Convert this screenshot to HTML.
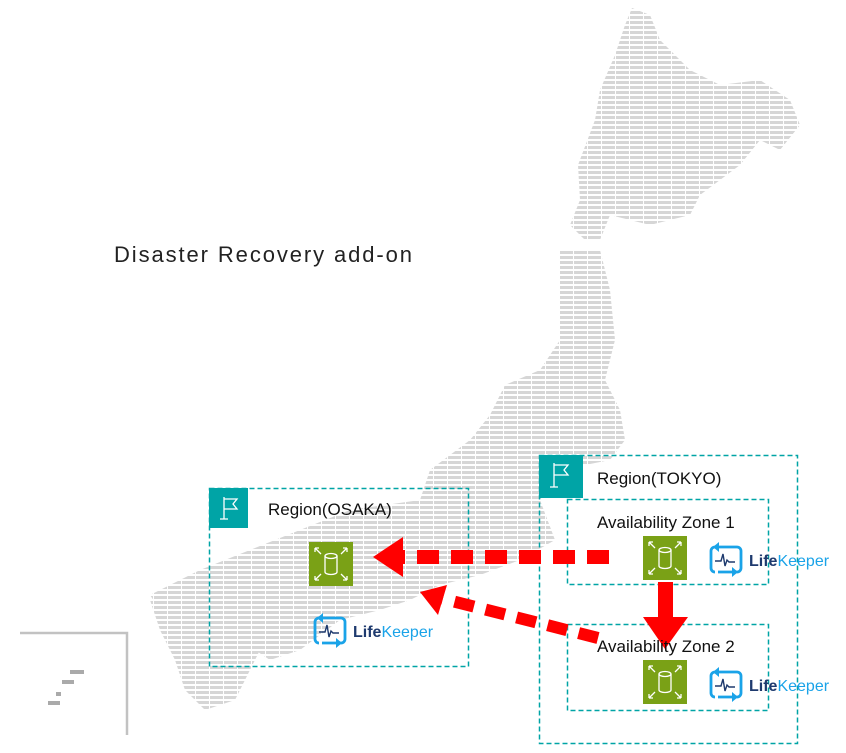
<!DOCTYPE html>
<html><head><meta charset="utf-8"><style>
html,body{margin:0;padding:0;background:#fff;width:846px;height:753px;overflow:hidden}
svg{display:block}
text{font-family:"Liberation Sans",sans-serif}
</style></head><body>
<svg width="846" height="753" viewBox="0 0 846 753" xmlns="http://www.w3.org/2000/svg">
<defs>
<pattern id="st" width="14" height="5" patternUnits="userSpaceOnUse">
<rect x="0" y="1" width="13" height="3" fill="#d6d6d6"/>
</pattern>
<g id="rds">
<rect width="44" height="44" fill="#7aa116"/>
<g stroke="#fff" stroke-width="1.3" fill="none">
<path d="M16 14 v16 a6 2.5 0 0 0 12 0 v-16"/>
<ellipse cx="22" cy="14" rx="6" ry="2.5"/>
<path d="M6 6 l6 6 M6 6 h4 M6 6 v4 M38 6 l-6 6 M38 6 h-4 M38 6 v4 M6 38 l6 -6 M6 38 h4 M6 38 v-4 M38 38 l-6 -6 M38 38 h-4 M38 38 v-4"/>
</g>
</g>
<g id="lk">
<g fill="none" stroke="#1aa3e8" stroke-width="2.8">
<path d="M7 4 h21 a4 4 0 0 1 4 4 v17 a4 4 0 0 1 -4 4 h-19"/>
<path d="M6 4 a4 4 0 0 0 -4 4 v17 a4 4 0 0 0 4 4"/>
</g>
<path d="M10 -1 l-6 5 6 5 z M23 24 l6 5 -6 5 z" fill="#1aa3e8"/>
<path d="M6 18 h6 l2 -7 2 12 2 -6 2 2 h6" fill="none" stroke="#1e3a6e" stroke-width="1.4"/>
<text x="40" y="23" font-size="16"><tspan fill="#1e3a6e" font-weight="bold">Life</tspan><tspan fill="#1aa3e8">Keeper</tspan></text>
</g>
</defs>

<!-- map -->
<g fill="url(#st)">
<polygon points="632,8 650,15 660,40 690,70 720,85 760,80 790,100 800,125 780,150 760,140 740,165 720,180 700,195 690,215 650,225 610,215 600,240 585,240 570,225 580,200 578,165 595,120 600,90 615,55 625,25"/>
<polygon points="560,250 600,250 610,290 615,340 605,380 620,410 625,440 610,460 560,470 540,500 500,505 470,500 440,505 420,500 430,470 470,440 490,415 505,385 540,370 560,340 560,300"/>
<polygon points="420,500 470,495 540,500 555,540 520,560 480,575 440,585 410,600 380,610 340,620 300,650 270,660 240,640 210,620 160,610 150,595 200,570 250,550 300,530 350,510"/>
<polygon points="150,600 210,590 250,600 265,640 250,670 235,700 205,710 185,690 175,660 160,630"/>
</g>
<!-- okinawa frame -->
<path d="M20 633 H127 V735" fill="none" stroke="#999" stroke-width="2.5" opacity="0.6"/>
<g fill="#aaa"><rect x="70" y="670" width="14" height="4"/><rect x="62" y="680" width="12" height="4"/><rect x="56" y="692" width="5" height="4"/><rect x="48" y="701" width="12" height="4"/></g>

<text x="114" y="262" font-size="22" fill="#222" letter-spacing="1.9">Disaster Recovery add-on</text>

<!-- Osaka -->
<rect x="209.5" y="488.5" width="259" height="178" fill="none" stroke="#00a4a6" stroke-width="1.5" stroke-dasharray="5,3"/>
<rect x="209" y="488" width="39" height="40" fill="#00a4a6"/>
<path d="M224 497 v22 M220 519 h8 M224 499 h13 l-4 5 4 5 h-13" fill="none" stroke="#fff" stroke-width="1.3"/>
<text x="268" y="515" font-size="17" fill="#111">Region(OSAKA)</text>
<use href="#rds" x="309" y="542"/>
<use href="#lk" x="313" y="614"/>

<!-- Tokyo -->
<rect x="539.5" y="455.5" width="258" height="288" fill="none" stroke="#00a4a6" stroke-width="1.5" stroke-dasharray="5,3"/>
<rect x="539" y="455" width="44" height="43" fill="#00a4a6"/>
<path d="M554 463 v24 M550 487 h8 M554 465 h14 l-4 5 4 5 h-14" fill="none" stroke="#fff" stroke-width="1.3"/>
<text x="597" y="484" font-size="17" fill="#111">Region(TOKYO)</text>

<rect x="567.5" y="499.5" width="201" height="85" fill="#fff" fill-opacity="0.6" stroke="#00a4a6" stroke-width="1.5" stroke-dasharray="5,3"/>
<text x="597" y="528" font-size="17" fill="#111">Availability Zone 1</text>
<use href="#rds" x="643" y="536"/>
<use href="#lk" x="709" y="543"/>

<rect x="567.5" y="624.5" width="201" height="86" fill="none" stroke="#00a4a6" stroke-width="1.5" stroke-dasharray="5,3"/>
<use href="#rds" x="643" y="660"/>
<use href="#lk" x="709" y="668"/>

<!-- arrows -->
<rect x="658" y="582" width="15" height="36" fill="#ff0000"/>
<polygon points="643,617 688,617 665,649" fill="#ff0000"/>
<text x="597" y="652" font-size="17" fill="#111">Availability Zone 2</text>

<line x1="609" y1="557" x2="403" y2="557" stroke="#ff0000" stroke-width="14" stroke-dasharray="22,12"/>
<polygon points="373,557 403,537 403,577" fill="#ff0000"/>

<line x1="598" y1="638" x2="440" y2="598" stroke="#ff0000" stroke-width="12" stroke-dasharray="20,12"/>
<polygon points="420,592 447,585 438,615" fill="#ff0000"/>
</svg>
</body></html>
